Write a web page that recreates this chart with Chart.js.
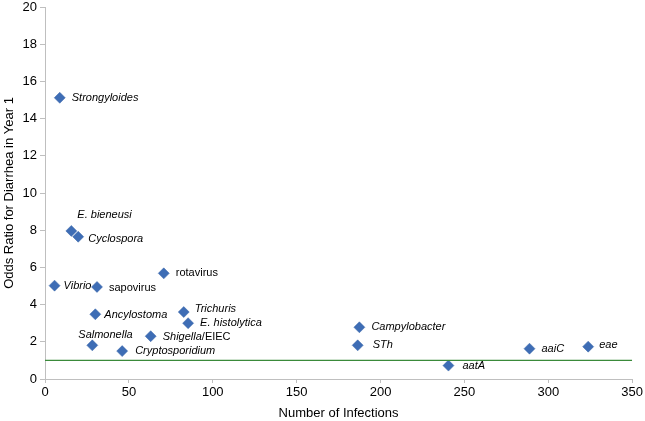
<!DOCTYPE html>
<html>
<head>
<meta charset="utf-8">
<script src="https://cdn.jsdelivr.net/npm/chart.js@4/dist/chart.umd.min.js"></script>
<style>
html,body{margin:0;padding:0;background:#fff;}
#wrap{width:645px;height:421px;}
</style>
</head>
<body>
<div id="wrap"><canvas id="c" width="645" height="421"></canvas></div>
<script>
// Data
const labels = ["*Strongyloides*", "*E. bieneusi*", "*Cyclospora*", "*Vibrio*", "sapovirus", "rotavirus",
  "*Ancylostoma*", "*Trichuris*", "*E. histolytica*", "*Salmonella*", "*Shigella*/EIEC", "*Cryptosporidium*",
  "*Campylobacter*", "*STh*", "*aatA*", "*aaiC*", "*eae*"];
const infections = [8.8, 15.7, 19.8, 5.7, 31, 70.8, 30, 82.7, 85.3, 28.2, 63, 46, 187.4, 186.4, 240.5, 288.8, 323.8];
const oddsRatios = [15.12, 7.96, 7.65, 5.02, 4.95, 5.68, 3.48, 3.6, 3.0, 1.81, 2.3, 1.5, 2.78, 1.81, 0.72, 1.63, 1.74];
const refX = [0, 350];
const refY = [1, 1];
const xTicks = [0, 50, 100, 150, 200, 250, 300, 350];
const yTicks = [0, 2, 4, 6, 8, 10, 12, 14, 16, 18, 20];

// label placement offsets (pixels, styling only)
const labelOffsets = [
  [12, 0], [6, -16], [10, 2], [9, 0], [12, 1], [12, 0],
  [9, 1], [11, -3], [12, 0], [-14, -10], [12, 1], [13, 0],
  [12, 0], [15, 0], [14, 0], [12, 0], [11, -2]
];

const FONT = "'Liberation Sans', Arial, sans-serif";

const labelPlugin = {
  id: 'pointLabels',
  afterDatasetsDraw(chart) {
    const meta = chart.getDatasetMeta(1);
    const ctx = chart.ctx;
    ctx.save();
    ctx.textBaseline = 'middle';
    ctx.textAlign = 'left';
    ctx.fillStyle = '#000';
    meta.data.forEach((pt, i) => {
      let x = pt.x + labelOffsets[i][0];
      const y = pt.y + labelOffsets[i][1];
      const parts = labels[i].split('*');
      parts.forEach((seg, j) => {
        if (!seg) return;
        ctx.font = (j % 2 === 1 ? 'italic ' : '') + '11px ' + FONT;
        ctx.fillText(seg, x, y);
        x += ctx.measureText(seg).width;
      });
    });
    ctx.restore();
  }
};

new Chart(document.getElementById('c'), {
  type: 'scatter',
  data: {
    datasets: [
      {
        type: 'line',
        data: refX.map((x, i) => ({x: x, y: refY[i]})),
        borderColor: '#3A8A3A',
        borderWidth: 1.2,
        pointRadius: 0,
        fill: false
      },
      {
        data: infections.map((x, i) => ({x: x, y: oddsRatios[i]})),
        pointStyle: 'rectRot',
        pointRadius: 5.5,
        backgroundColor: '#3E6DB5',
        borderColor: '#3A66A8',
        borderWidth: 0.5
      }
    ]
  },
  options: {
    responsive: false,
    animation: false,
    layout: { padding: { top: 0, right: 12, left: 0, bottom: 0 } },
    plugins: { legend: { display: false }, tooltip: { enabled: false } },
    scales: {
      x: {
        type: 'linear',
        min: 0, max: 350,
        afterBuildTicks: (s) => { s.ticks = xTicks.map(v => ({value: v})); },
        afterFit: (s) => { s.height = 42; },
        border: { color: '#BFBFBF', width: 1 },
        grid: { drawOnChartArea: false, color: '#BFBFBF', tickLength: 4 },
        ticks: { color: '#000', font: { family: FONT, size: 13 }, padding: 2, maxRotation: 0 },
        title: { display: true, text: 'Number of Infections', color: '#000', font: { family: FONT, size: 13 }, padding: { top: 4, bottom: 0 } }
      },
      y: {
        min: 0, max: 20,
        afterBuildTicks: (s) => { s.ticks = yTicks.map(v => ({value: v})); },
        afterFit: (s) => { s.width = 45; s.paddingTop = 7; },
        border: { color: '#BFBFBF', width: 1 },
        grid: { drawOnChartArea: false, color: '#BFBFBF', tickLength: 5 },
        ticks: { color: '#000', font: { family: FONT, size: 13 }, padding: 3 },
        title: { display: true, text: 'Odds Ratio for Diarrhea in Year 1', color: '#000', font: { family: FONT, size: 13 }, padding: { top: 2, bottom: 0 } }
      }
    }
  },
  plugins: [labelPlugin]
});
</script>
</body>
</html>
